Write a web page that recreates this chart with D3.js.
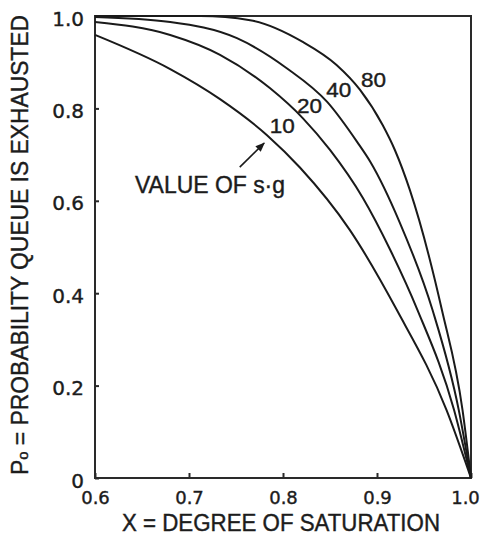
<!DOCTYPE html>
<html lang="en">
  <head>
    <meta charset="utf-8">
    <script src="https://d3js.org/d3.v7.min.js"></script>
    <style>
    body { margin: 0; background: #fff; }
    text { font-family: "Liberation Sans", Arial, sans-serif; fill: #1c1c1c;
           stroke: #1c1c1c; stroke-width: 0.4px; }
    .tick text { font-family: "DejaVu Sans", sans-serif; }
    .curve { fill: none; stroke: #1a1a1a; stroke-width: 2px; }
    </style>
    <title>Probability queue is exhausted</title>
  </head>
  <body>
    <script>
// values: [X, P0] per value of s·g
var curve10 = [[0.600, 0.959], [0.680, 0.885], [0.733, 0.820], [0.783, 0.742],
               [0.818, 0.672], [0.871, 0.537], [0.921, 0.364], [0.974, 0.147],
               [1.000, 0.000]];
var curve20 = [[0.600, 0.987], [0.680, 0.959], [0.733, 0.916], [0.786, 0.844],
               [0.821, 0.779], [0.850, 0.710], [0.885, 0.606], [0.914, 0.494],
               [0.943, 0.364], [0.982, 0.147], [1.000, 0.000]];
var curve40 = [[0.600, 0.998], [0.680, 0.987], [0.751, 0.952], [0.804, 0.887],
               [0.847, 0.814], [0.879, 0.727], [0.893, 0.684], [0.924, 0.554],
               [0.959, 0.364], [0.987, 0.147], [1.000, 0.000]];
var curve80 = [[0.600, 1.000], [0.712, 1.000], [0.765, 0.991], [0.821, 0.944],
               [0.857, 0.894], [0.882, 0.840], [0.906, 0.764], [0.919, 0.710],
               [0.935, 0.623], [0.969, 0.364], [0.991, 0.147], [1.000, 0.000]];

var seriesNames = ['10', '20', '40', '80'];
var seriesData = [curve10, curve20, curve40, curve80];
// where each curve label sits (data coords, left/baseline)
var labelAt = [[0.786, 0.747], [0.815, 0.790], [0.846, 0.825], [0.883, 0.846]];

var xTicks = [0.6, 0.7, 0.8, 0.9, 1.0];
var xTickLabels = ['0.6', '0.7', '0.8', '0.9', '1.0'];
var yTicks = [0, 0.2, 0.4, 0.6, 0.8, 1.0];
var yTickLabels = ['0', '0.2', '0.4', '0.6', '0.8', '1.0'];

var w = 488, h = 544;
var svg = d3.select('body').append('svg')
            .attr('width', w)
            .attr('height', h);

var x = d3.scaleLinear().domain([0.6, 1.0]).range([95, 471]);
var y = d3.scaleLinear().domain([0, 1.0]).range([478, 16]);

// frame
svg.append('rect')
   .attr('x', x(0.6)).attr('y', y(1))
   .attr('width', x(1) - x(0.6)).attr('height', y(0) - y(1))
   .attr('fill', 'none').attr('stroke', '#2a2a2a').attr('stroke-width', 2);

// axes, ticks pointing inward
var xAxis = d3.axisBottom(x).tickValues(xTicks)
              .tickFormat(function(d, i) { return xTickLabels[i]; })
              .tickSize(-5).tickPadding(13);
var gx = svg.append('g').attr('transform', 'translate(0,' + y(0) + ')').call(xAxis);
gx.select('.domain').remove();
gx.selectAll('line').attr('stroke', '#2a2a2a').attr('stroke-width', 2);
gx.selectAll('text').attr('font-size', 18).attr('fill', '#1c1c1c')
  .attr('dx', function(d, i) { return i === xTicks.length - 1 ? -6 : 0; });

var yAxis = d3.axisLeft(y).tickValues(yTicks)
              .tickFormat(function(d, i) { return yTickLabels[i]; })
              .tickSize(-4).tickPadding(11);
var gy = svg.append('g').attr('transform', 'translate(' + x(0.6) + ',0)').call(yAxis);
gy.select('.domain').remove();
gy.selectAll('line').attr('stroke', '#2a2a2a').attr('stroke-width', 2);
gy.selectAll('text').attr('font-size', 20)
  .attr('dy', '0.45em').attr('fill', '#1c1c1c');

// curves
var line = d3.line()
             .x(function(d) { return x(d[0]); })
             .y(function(d) { return y(d[1]); })
             .curve(d3.curveMonotoneX);

svg.append('g').selectAll('path')
   .data(seriesData)
   .enter().append('path')
   .attr('class', 'curve')
   .attr('d', line);

svg.append('g').selectAll('text')
   .data(seriesNames)
   .enter().append('text')
   .attr('x', function(d, i) { return x(labelAt[i][0]); })
   .attr('y', function(d, i) { return y(labelAt[i][1]); })
   .attr('font-size', 20)
   .attr('textLength', 25)
   .attr('lengthAdjust', 'spacingAndGlyphs')
   .text(function(d) { return d; });

// annotation
svg.append('defs').append('marker')
   .attr('id', 'arrow')
   .attr('viewBox', '0 0 10 10')
   .attr('refX', 9).attr('refY', 5)
   .attr('markerWidth', 6).attr('markerHeight', 6)
   .attr('orient', 'auto')
   .append('path').attr('d', 'M0,1 L10,5 L0,9 z').attr('fill', '#1a1a1a');

svg.append('line')
   .attr('x1', x(0.754)).attr('y1', y(0.673))
   .attr('x2', x(0.780)).attr('y2', y(0.725))
   .attr('stroke', '#1a1a1a').attr('stroke-width', 1.6)
   .attr('marker-end', 'url(#arrow)');

svg.append('text')
   .attr('x', 135).attr('y', 193)
   .attr('font-size', 23)
   .attr('textLength', 150)
   .attr('lengthAdjust', 'spacingAndGlyphs')
   .text('VALUE OF s\u00b7g');

// axis titles
svg.append('text')
   .attr('x', 281).attr('y', 531)
   .attr('text-anchor', 'middle')
   .attr('font-size', 23)
   .attr('textLength', 318)
   .attr('lengthAdjust', 'spacingAndGlyphs')
   .text('X = DEGREE  OF  SATURATION');

var yt = svg.append('text')
   .attr('transform', 'translate(28,245) rotate(-90)')
   .attr('text-anchor', 'middle')
   .attr('font-size', 23)
   .attr('textLength', 460)
   .attr('lengthAdjust', 'spacingAndGlyphs');
yt.append('tspan').text('P');
yt.append('tspan').attr('font-size', 15).text('o');
yt.append('tspan').text(' = PROBABILITY QUEUE IS EXHAUSTED');
    </script>
  </body>
</html>
